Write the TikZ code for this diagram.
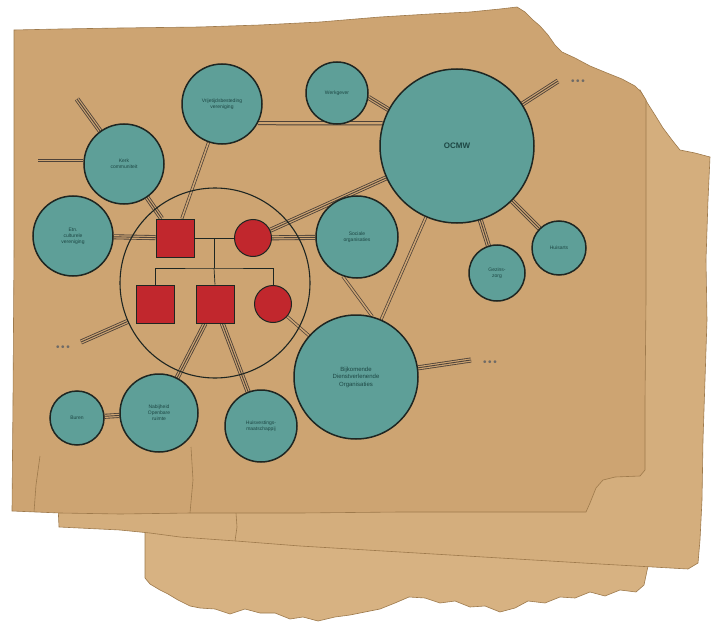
\documentclass[tikz,border=0pt]{standalone}
\usepackage{fontspec}
\setmainfont{Liberation Sans}
\definecolor{paperF}{HTML}{CDA472}
\definecolor{paperM}{HTML}{D4AE7D}
\definecolor{paperB}{HTML}{D7B282}
\definecolor{edgeC}{HTML}{9E7A4C}
\definecolor{tealC}{HTML}{5E9F98}
\definecolor{txtC}{HTML}{1D4744}
\definecolor{inkC}{HTML}{1E2622}
\definecolor{redC}{HTML}{C1272D}
\definecolor{lineC}{HTML}{4E4239}
\definecolor{dotC}{HTML}{6E6A66}
\pgfdeclarelayer{paperlayer}
\pgfdeclarelayer{bg}
\pgfsetlayers{paperlayer,bg,main}
\tikzset{
  org/.style={circle, draw=inkC, line width=1.5pt, fill=tealC, text=txtC,
    font=\fontsize{5}{6}\selectfont, align=center, inner sep=0pt},
  sq/.style={rectangle, draw=inkC, line width=1pt, fill=redC, minimum size=38pt, inner sep=0pt},
  fc/.style={circle, draw=inkC, line width=1pt, fill=redC, minimum size=37pt, inner sep=0pt},
  tri/.style={draw=lineC, line width=5pt, postaction={draw=paperF, line width=3.3pt},
    postaction={draw=lineC, line width=0.9pt}},
  dbl/.style={draw=lineC, line width=3pt, postaction={draw=paperF, line width=1.5pt}},
  dblw/.style={draw=lineC, line width=4.2pt, postaction={draw=paperF, line width=2.2pt}},
  fam/.style={draw=inkC, line width=0.7pt},
  dots/.style={text=dotC, font=\fontsize{10}{10}\selectfont, inner sep=0pt},
  paperedge/.style={draw=edgeC, line width=0.6pt}
}
\begin{document}
\begin{tikzpicture}[x=1pt,y=-1pt]
\useasboundingbox (0,0) rectangle (713,626);
\begin{pgfonlayer}{paperlayer}
\fill[white] (0,0) rectangle (713,626);
% back sheet
\filldraw[fill=paperB, paperedge] (145,528) -- (646,540) -- (648,566) -- (644,585) -- (636,592) -- (620,590) -- (605,596) -- (590,592) -- (575,598) -- (560,597) -- (545,603) -- (528,601) -- (515,608) -- (500,612) -- (485,606) -- (470,607) -- (455,601) -- (440,603) -- (425,598) -- (409,597) -- (395,603) -- (380,609) -- (365,612) -- (350,615) -- (335,617) -- (318,621) -- (303,617) -- (290,619) -- (275,613) -- (260,613) -- (245,609) -- (230,614) -- (215,609) -- (200,608) -- (190,606) -- (178,600) -- (168,594) -- (160,590) -- (150,584) -- (145,578) -- cycle;
% middle sheet
\filldraw[fill=paperM, paperedge] (58,505) -- (620,470) -- (640,90) -- (648,104) -- (655,115) -- (663,128) -- (672,140) -- (680,150) -- (695,153) -- (710,157) -- (708,200) -- (706,260) -- (707,320) -- (705,380) -- (703,440) -- (702,500) -- (700,540) -- (698,563) -- (688,569) -- (600,564) -- (500,558) -- (400,552) -- (300,546) -- (236,541) -- (180,537) -- (150,533) -- (120,530) -- (59,527) -- cycle;
\draw[paperedge] (236,513) -- (237,527) -- (235,541);
% front sheet
\filldraw[fill=paperF, paperedge] (14,30) -- (60,29) -- (120,28) -- (200,27) -- (260,25) -- (320,22) -- (380,17) -- (430,14) -- (470,12) -- (500,9) -- (517,7) -- (525,12) -- (533,20) -- (540,26) -- (548,35) -- (555,45) -- (562,52) -- (575,58) -- (590,66) -- (607,73) -- (622,79) -- (635,86) -- (641,92) -- (646,100) -- (646,200) -- (646,300) -- (645,400) -- (645,470) -- (640,476) -- (615,477) -- (603,480) -- (596,488) -- (590,503) -- (586,512) -- (500,512) -- (400,512) -- (300,513) -- (191,513) -- (120,514) -- (60,513) -- (12,511) -- (13,400) -- (14,250) -- (14,120) -- cycle;
\draw[paperedge] (191,447) -- (193,480) -- (190,513);
\draw[paperedge] (40,456) -- (36,485) -- (34,512);
\end{pgfonlayer}

% household circle
\node[circle, draw=inkC, line width=1.1pt, minimum size=190pt, inner sep=0pt] (ego) at (215,283) {};

% family
\node[sq] (f) at (175,238) {};
\node[fc] (m) at (253,238) {};
\node[sq] (c1) at (155,304) {};
\node[sq] (c2) at (215,304) {};
\node[fc] (c3) at (273,304) {};
\coordinate (mid) at (214,238);
\coordinate (sib) at (214,268);
\draw[fam] (f) -- (m);
\draw[fam] (mid) -- (sib);
\draw[fam] (c1.north) |- (sib) -| (c3.north);
\draw[fam] (sib) -- (c2.north);

% organisations
\node[org, minimum size=80pt] (vrij) at (222,104) {Vrijetijdsbesteding\\vereniging};
\node[org, minimum size=62pt] (werk) at (337,93) {Werkgever};
\node[org, minimum size=154pt, font=\fontsize{8}{9}\selectfont\bfseries] (ocmw) at (457,146) {OCMW};
\node[org, minimum size=80pt] (kerk) at (124,164) {Kerk\\communiteit};
\node[org, minimum size=80pt] (etn) at (73,236) {Etn.\\culturele\\vereniging};
\node[org, minimum size=82pt] (soc) at (357,237) {Sociale\\organisaties};
\node[org, minimum size=56pt] (gez) at (497,273) {Gezins-\\zorg};
\node[org, minimum size=54pt] (arts) at (559,248) {Huisarts};
\node[org, minimum size=124pt, font=\fontsize{6}{7.5}\selectfont] (bijk) at (356,377) {Bijkomende\\Dienstverlenende\\Organisaties};
\node[org, minimum size=54pt] (buren) at (77,418) {Buren};
\node[org, minimum size=78pt] (nab) at (159,413) {Nabijheid\\Openbare\\ruimte};
\node[org, minimum size=72pt] (huis) at (261,426) {Huisvestings-\\maatschappij};

% free ends and dots
\coordinate (kA) at (77,99);
\coordinate (kB) at (38,159);
\coordinate (oA) at (558,81);
\coordinate (bA) at (471,360);
\coordinate (lA) at (81,342);
\node[dots] (dotsO) at (578,82) {•\,•\,•};
\node[dots] (dotsB) at (490,363) {•\,•\,•};
\node[dots] (dotsL) at (63,348) {•\,•\,•};

\begin{pgfonlayer}{bg}
\path[tri] (kA) -- (kerk);
\path[tri] (kB) -- (kerk.west |- kB);
\path[tri] (kerk) -- (f);
\path[tri] (etn) -- (f);
\path[dbl] (vrij) -- (f);
\path[dblw] (vrij.-28) -- (ocmw.163);
\path[tri] (werk.-8) -- (ocmw.152);
\path[tri] (m) -- (ocmw);
\path[tri] (m) -- (soc);
\path[dbl] (c3) -- (bijk);
\path[dbl] (soc.250) -- (bijk.75);
\path[dbl] (ocmw) -- (bijk);
\path[tri] (ocmw) -- (oA);
\path[tri] (ocmw) -- (gez);
\path[tri] (ocmw) -- (arts);
\path[tri] (bijk) -- (bA);
\path[tri] (lA) -- (ego);
\path[tri] (buren) -- (nab);
\path[tri] (nab) -- (c2);
\path[tri] (huis) -- (c2);
\end{pgfonlayer}
\end{tikzpicture}
\end{document}
